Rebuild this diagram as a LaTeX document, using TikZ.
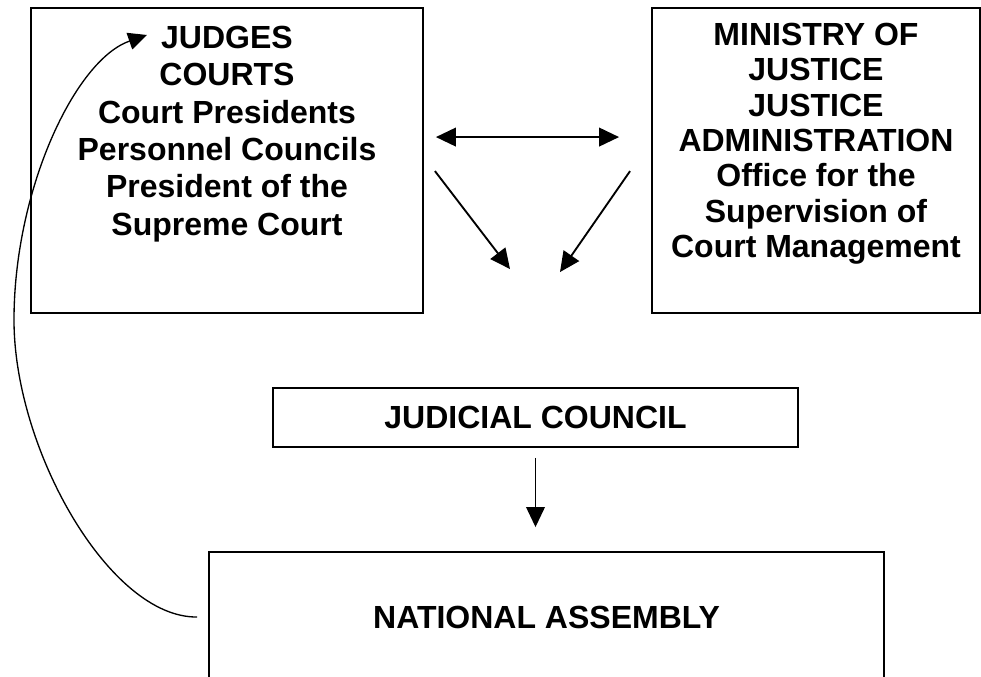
\documentclass[tikz,border=0pt]{standalone}
\usepackage{fontspec}
\setmainfont{Liberation Sans}
\usetikzlibrary{arrows.meta,positioning}
\tikzstyle{block} = [rectangle, draw, line width=1.4pt, inner sep=0pt, font=\bfseries\fontsize{24}{28}\selectfont]
\tikzstyle{boxtext} = [align=center, inner sep=0pt, font=\bfseries\fontsize{24}{28}\selectfont]
\tikzstyle{line} = [draw, line width=1.4pt, -{Triangle[length=15pt,width=14pt]}]
\tikzstyle{both} = [draw, line width=1.4pt, {Triangle[length=15pt,width=14pt]}-{Triangle[length=15pt,width=14pt]}]
\tikzstyle{curve} = [draw, line width=1pt, -{Triangle[length=14pt,width=13pt]}]

\begin{document}
\begin{tikzpicture}[x=0.75pt, y=-0.75pt]
	\clip (0,0) rectangle (981,677);
	% Place nodes
	\node [block, minimum width=294pt, minimum height=228.75pt] (judges) at (227,160.5) {};
	\node [block, minimum width=246pt, minimum height=228.75pt] (ministry) at (816,160.5) {};
	\node [block, minimum width=393.75pt, minimum height=44.25pt] (council) at (535.5,417.5) {JUDICIAL COUNCIL};
	\node [block, minimum width=506.25pt, minimum height=97.5pt] (assembly) at (546.5,617) {NATIONAL ASSEMBLY};
	\node [boxtext, anchor=north] (judgestext) at (227,26)
		{JUDGES\\COURTS\\Court Presidents\\Personnel Councils\\President of the\\Supreme Court};
	\node [boxtext, anchor=north, font=\bfseries\fontsize{24}{26.5}\selectfont] (ministrytext) at (816,23)
		{MINISTRY OF\\JUSTICE\\JUSTICE\\ADMINISTRATION\\Office for the\\Supervision of\\Court Management};
	\coordinate (jtip) at (147,35);
	\coordinate (bend) at (14,320);
	
	% Draw edges
	\path [both] ([shift={(12,130)}]judges.north east) -- ([shift={(-32,130)}]ministry.north west);
	\path [line] ([shift={(11,164)}]judges.north east) -- ([shift={(-25.5,-118)}]council.north);
	\path [line] ([shift={(-21,164)}]ministry.north west) -- ([shift={(24.5,-115)}]council.north);
	\path [line, line width=1.1pt, shorten <=7.5pt, shorten >=18pt] (council.south) -- (council.south |- assembly.north);
	\path [curve] ([shift={(-11,0)}]assembly.west) .. controls (110,618) and (14,450) .. (bend)
		.. controls (14,190) and (75,60) .. (jtip);
	
\end{tikzpicture}
\end{document}
